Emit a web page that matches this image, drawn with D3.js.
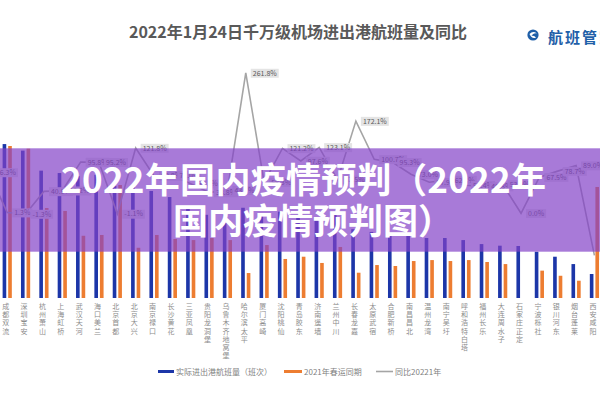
<!DOCTYPE html>
<html>
<head>
<meta charset="utf-8">
<script src="https://cdn.jsdelivr.net/npm/d3@7"></script>
<style>
  body { margin: 0; background: #fff; }
  svg { display: block; font-family: "Noto Sans CJK SC", "Noto Sans", sans-serif; }
</style>
</head>
<body>
<svg width="600" height="400"></svg>
<script>
// first entry sits just off the left edge of the crop (only its label tail shows)
const airports = ["重庆江北", "成都双流", "深圳宝安", "杭州萧山", "上海虹桥", "武汉天河", "海口美兰",
  "北京首都", "北京大兴", "南京禄口", "长沙黄花", "三亚凤凰", "贵阳龙洞堡", "乌鲁木齐地窝堡",
  "哈尔滨太平", "厦门高崎", "沈阳桃仙", "青岛胶东", "济南遥墙", "兰州中川", "长春龙嘉", "太原武宿",
  "合肥新桥", "南昌昌北", "温州龙湾", "南宁吴圩", "呼和浩特白塔", "福州长乐", "大连周水子",
  "石家庄正定", "宁波栎社", "银川河东", "烟台蓬莱", "西安咸阳"];
const flights2022 = [null, 962, 921, 796, 781, 762, 770, 700, 696, 669, 631, 562, 520, 518, 564,
  524, 540, 510, 489, 518, 430, 413, 391, 400, 375, 375, 362, 337, 327, 325, 289, 258, 212, 150];
const flights2021 = [null, 950, 933, 562, 544, 389, 394, 706, 314, 394, 369, 362, 375, 362, 156,
  331, 244, 258, 219, 319, 158, 206, 200, 231, 237, 231, 237, 225, 212, null, 171, 139, 108, 694];
const yoy = [76.3, 1.3, -1.3, 40.9, 42.2, 95.8, 95.2, -1.1, 121.8, 69.8, 71.0, 55.2, 38.8, 43.1,
  261.8, 58.3, 121.2, 97.6, 123.1, 62.5, 172.1, 100.7, 95.3, 73.0, 57.9, 62.3, 52.4, 49.8, 53.9,
  0.0, 67.5, 78.7, 89.0, -78.4];
const legendNames = ["实际进出港航班量（班次）", "2021年春运同期", "同比20221年"];
const seriesKeys = ["cur", "prev"];

const title = "2022年1月24日千万级机场进出港航班量及同比";
const bannerLines = ["2022年国内疫情预判（2022年", "国内疫情预判图）"];

const blue = "#1c36a8", orange = "#ed7d31", gray = "#a5a5a5";

let svg = d3.select("svg");

let x = d3.scaleBand().domain(airports).range([-20.3, 603.6]).padding(0);
let xSub = d3.scaleBand().domain(seriesKeys).range([-4.6, 4.6]).paddingInner(0.35);
let yBar = d3.scaleLinear().domain([0, 1000]).range([298, 138]);
let yPct = d3.scaleLinear().domain([-100, 300]).range([266.9, 52.5]);
let cx = (name) => x(name) + x.bandwidth() / 2;

let rows = airports.map((a, i) => ({ name: a, cur: flights2022[i], prev: flights2021[i], pct: yoy[i] }));

// title
svg.append("text")
  .attr("x", 298).attr("y", 38)
  .attr("text-anchor", "middle")
  .attr("font-size", "16px").attr("font-weight", "bold")
  .attr("fill", "#595959")
  .text(title);

// logo
let logo = svg.append("g").attr("transform", "translate(533,35)");
logo.append("circle").attr("r", 5.6).attr("fill", "#1f5fa8");
logo.append("path")
  .attr("d", "M-3.5,-1 Q0,-4.5 3.8,-1.5 Q0,-2.5 -1.5,1 Q1,0 3,2.5 Q-1,4.5 -3.5,-1 Z")
  .attr("fill", "#fff");
svg.append("text")
  .attr("x", 548).attr("y", 42.5)
  .attr("font-size", "15px").attr("font-weight", 600)
  .attr("letter-spacing", "2px")
  .attr("fill", "#1f5fa8")
  .text("航班管家");

// bars
let groups = svg.append("g").selectAll("g")
  .data(rows)
  .enter()
  .append("g")
  .attr("transform", (d) => "translate(" + cx(d.name) + ",0)");

groups.selectAll("rect")
  .data((d) => seriesKeys.map((k) => ({ key: k, value: d[k] })).filter((s) => s.value != null))
  .enter()
  .append("rect")
  .attr("x", (s) => xSub(s.key))
  .attr("width", xSub.bandwidth())
  .attr("y", (s) => yBar(s.value))
  .attr("height", (s) => yBar(0) - yBar(s.value))
  .attr("fill", (s) => (s.key == "cur" ? blue : orange));

// yoy line
svg.append("path")
  .datum(rows)
  .attr("fill", "none")
  .attr("stroke", gray)
  .attr("stroke-width", 1.6)
  .attr("d", d3.line().x((d) => cx(d.name)).y((d) => yPct(d.pct)));

// data labels
let lab = svg.append("g").selectAll("g")
  .data(rows)
  .enter()
  .append("g")
  .attr("transform", (d) => "translate(" + (cx(d.name) + 5) + "," + yPct(d.pct) + ")");
lab.append("rect").attr("fill", "#e4e4e4");
lab.append("text")
  .attr("x", 2).attr("y", 2.6)
  .attr("font-size", "7px")
  .attr("fill", "#595959")
  .text((d) => d.pct.toFixed(1) + "%");
lab.each(function () {
  let g = d3.select(this);
  let w = g.select("text").node().getComputedTextLength();
  g.select("rect").attr("x", 0).attr("y", -4.2).attr("width", w + 4).attr("height", 9);
});

// category labels, one character per line
let catText = svg.append("g").selectAll("text")
  .data(rows.slice(1))
  .enter()
  .append("text")
  .attr("text-anchor", "middle")
  .attr("font-size", "7px")
  .attr("fill", "#8c8c8c");
catText.selectAll("tspan")
  .data((d) => Array.from(d.name).map((ch) => ({ ch: ch, x: cx(d.name) - 1.5 })))
  .enter()
  .append("tspan")
  .attr("x", (t) => t.x)
  .attr("y", (t, i) => 309 + i * 8.2)
  .text((t) => t.ch);

// legend
let legend = [
  { name: legendNames[0], x: 158, w: 16, color: blue, h: 3 },
  { name: legendNames[1], x: 284, w: 18, color: orange, h: 3 },
  { name: legendNames[2], x: 376, w: 17, color: gray, h: 1.6 }
];
let lg = svg.append("g").selectAll("g").data(legend).enter().append("g");
lg.append("rect")
  .attr("x", (d) => d.x).attr("y", (d) => 371.5 - d.h / 2)
  .attr("width", (d) => d.w).attr("height", (d) => d.h)
  .attr("fill", (d) => d.color);
lg.append("text")
  .attr("x", (d) => d.x + d.w + 2).attr("y", 374.5)
  .attr("font-size", "8px")
  .attr("fill", "#7f7f7f")
  .text((d) => d.name);

// purple banner on top
svg.append("rect")
  .attr("x", 0).attr("y", 148.3)
  .attr("width", 600).attr("height", 103.4)
  .attr("fill", "rgb(131,66,199)")
  .attr("fill-opacity", 0.7);
svg.selectAll(".banner")
  .data(bannerLines)
  .enter()
  .append("text")
  .attr("class", "banner")
  .attr("x", (d, i) => (i == 0 ? 61 : 173))
  .attr("y", (d, i) => 193 + i * 41)
  .attr("font-size", "35px").attr("font-weight", "bold")
  .attr("letter-spacing", (d, i) => (i == 0 ? "0.3px" : "0px"))
  .attr("fill", "#fff")
  .text((d) => d);
</script>
</body>
</html>
